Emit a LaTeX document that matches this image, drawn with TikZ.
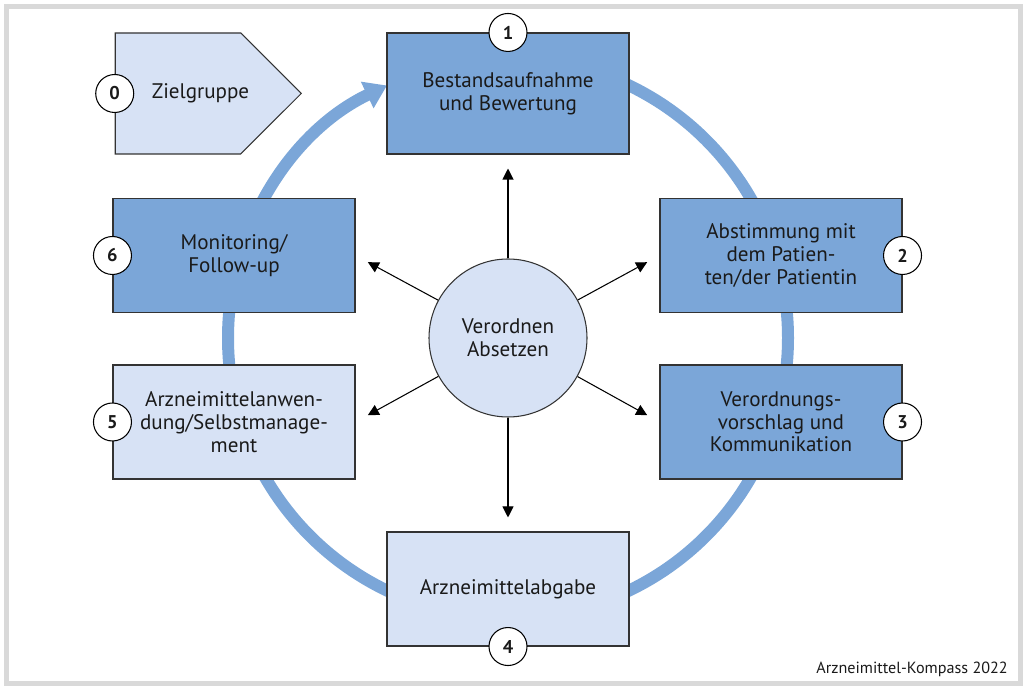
\documentclass[tikz,border=0pt]{standalone}
\usepackage{fontspec}
\setmainfont{PT Sans}
\usetikzlibrary{arrows.meta,shapes.symbols,positioning,calc}
\definecolor{ringblue}{HTML}{7BA6D8}
\definecolor{paleblue}{HTML}{D7E2F5}
\definecolor{framegray}{HTML}{D9D9D9}
\definecolor{txt}{HTML}{1A1A1A}

\begin{document}
\begin{tikzpicture}[
    every node/.style={text=txt, font=\fontsize{12}{12.9}\selectfont},
    box/.style={draw=black!80, line width=0.6pt, minimum width=4.84cm, minimum height=2.28cm, align=center, inner sep=0pt},
    darkbox/.style={box, fill=ringblue},
    lightbox/.style={box, fill=paleblue},
    num/.style={circle, draw=black, fill=white, line width=0.6pt, minimum size=0.76cm, inner sep=0pt, font=\fontsize{10.5}{12}\bfseries\selectfont},
    spoke/.style={-{Triangle[length=0.22cm,width=0.22cm]}, line width=0.6pt, shorten >=0.28cm}
  ]
  \useasboundingbox (0,0) rectangle (20.46,13.74);
  \draw[framegray, line width=0.1cm] (0.13,0.07) rectangle (20.41,13.61);

  \coordinate (m) at (10.16,6.98);
  \draw[ringblue, line width=0.24cm, -{Triangle[length=0.44cm,width=0.56cm]}] (m) ++(90:5.6) arc[start angle=90, end angle=-244.4, radius=5.6];

  \node[circle, draw=black!80, fill=paleblue, line width=0.6pt, minimum size=3.16cm, align=center] (c) at (m) {Verordnen\\Absetzen};

  \node[darkbox, minimum height=2.42cm] (b1) at (10.16,11.87) {Bestandsaufnahme\\und Bewertung};
  \node[darkbox] (b2) at (15.62,8.63) {Abstimmung mit\\dem Patien-\\ten/der Patientin};
  \node[darkbox] (b3) at (15.62,5.30) {Verordnungs-\\vorschlag und\\Kommunikation};
  \node[lightbox] (b4) at (10.16,1.96) {Arzneimittelabgabe};
  \node[lightbox] (b5) at (4.68,5.30) {Arzneimittelanwen-\\dung/Selbstmanage-\\ment};
  \node[darkbox] (b6) at (4.68,8.63) {Monitoring/\\Follow-up};

  \node[signal, signal to=east, draw=black!80, fill=paleblue, line width=0.6pt, minimum width=3.72cm, minimum height=2.42cm, inner sep=0pt] (zg) at (3.56,11.87) {};
  \node (zgl) at (4.01,11.87) {Zielgruppe};

  \node[num] (n0) at (zg.west) {0};
  \node[num] (n1) at (b1.north) {1};
  \node[num] (n2) at (b2.east) {2};
  \node[num] (n3) at (b3.east) {3};
  \node[num] (n4) at (b4.south) {4};
  \node[num] (n5) at (b5.west) {5};
  \node[num] (n6) at (b6.west) {6};

  \foreach \t in {b1.south,b2.west,b3.west,b4.north,b5.east,b6.east}
    \draw[spoke] (c) -- (\t);

  \node[anchor=base east, font=\fontsize{9.2}{11}\selectfont] (src) at (20.28,0.26) {Arzneimittel-Kompass 2022};
\end{tikzpicture}
\end{document}
